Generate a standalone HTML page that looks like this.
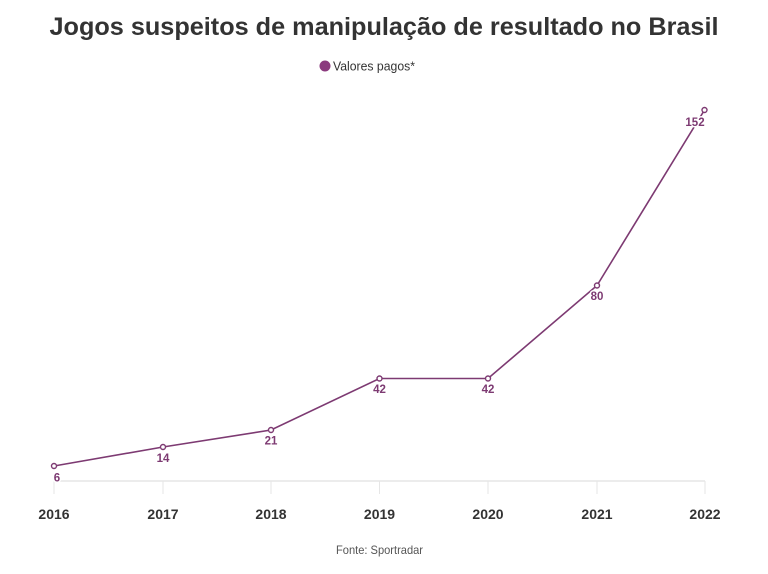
<!DOCTYPE html>
<html><head><meta charset="utf-8"><style>
html,body{margin:0;padding:0;background:#fff;}
svg{display:block;}
</style></head><body>
<svg width="768" height="574" viewBox="0 0 768 574" xmlns="http://www.w3.org/2000/svg" font-family="'Liberation Sans', sans-serif">
<rect width="768" height="574" fill="#fff"/>
<text x="384" y="35" text-anchor="middle" font-size="25" font-weight="bold" fill="#333" textLength="669" lengthAdjust="spacingAndGlyphs">Jogos suspeitos de manipulação de resultado no Brasil</text>
<circle cx="325" cy="66" r="5.5" fill="#8b3a7e"/>
<text x="333" y="70.5" font-size="13" fill="#333" textLength="82" lengthAdjust="spacingAndGlyphs">Valores pagos*</text>
<line x1="54" y1="481" x2="705" y2="481" stroke="#e6e6e6" stroke-width="1.5"/>
<g stroke="#e6e6e6" stroke-width="1">
<line x1="54" y1="481" x2="54" y2="494"/>
<line x1="163" y1="481" x2="163" y2="494"/>
<line x1="271" y1="481" x2="271" y2="494"/>
<line x1="379.5" y1="481" x2="379.5" y2="494"/>
<line x1="488" y1="481" x2="488" y2="494"/>
<line x1="597" y1="481" x2="597" y2="494"/>
<line x1="705" y1="481" x2="705" y2="494"/>
</g>
<g font-size="14" font-weight="bold" fill="#333" text-anchor="middle">
<text x="54" y="519">2016</text>
<text x="163" y="519">2017</text>
<text x="271" y="519">2018</text>
<text x="379.5" y="519">2019</text>
<text x="488" y="519">2020</text>
<text x="597" y="519">2021</text>
<text x="705" y="519">2022</text>
</g>
<polyline points="54,466 163,447 271,430 379.5,378.5 488,378.5 597,285.5 704.5,110" fill="none" stroke="#7d3a72" stroke-width="1.6"/>
<g font-size="11.5" font-weight="bold" fill="#7d3a72" text-anchor="middle" stroke="#fff" stroke-width="3" paint-order="stroke" stroke-linejoin="round">
<text x="57" y="481.5">6</text>
<text x="163" y="462">14</text>
<text x="271" y="444.5">21</text>
<text x="379.5" y="393">42</text>
<text x="488" y="393">42</text>
<text x="597" y="300">80</text>
<text x="695" y="126">152</text>
</g>
<g fill="#fff" stroke="#7d3a72" stroke-width="1.4">
<circle cx="54" cy="466" r="2.5"/>
<circle cx="163" cy="447" r="2.5"/>
<circle cx="271" cy="430" r="2.5"/>
<circle cx="379.5" cy="378.5" r="2.5"/>
<circle cx="488" cy="378.5" r="2.5"/>
<circle cx="597" cy="285.5" r="2.5"/>
<circle cx="704.5" cy="110" r="2.5"/>
</g>
<text x="379.5" y="554" text-anchor="middle" font-size="12" fill="#555" textLength="87" lengthAdjust="spacingAndGlyphs">Fonte: Sportradar</text>
</svg>
</body></html>
